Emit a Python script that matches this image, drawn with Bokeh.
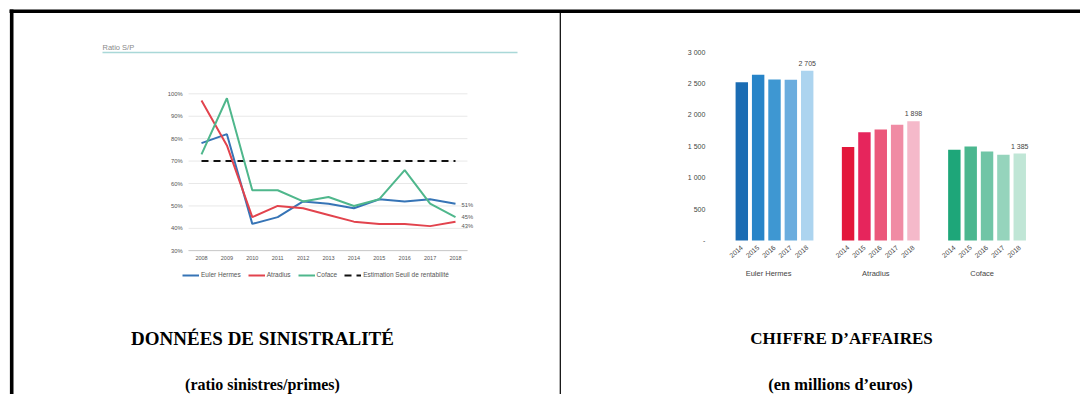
import math
from bokeh.plotting import figure
from bokeh.models import Range1d, LinearAxis, FixedTicker, Legend, LegendItem
from bokeh.core.properties import value
from bokeh.embed import file_html
from bokeh.resources import INLINE

# ---------------- data: loss ratio (left panel) ----------------
years = [2008, 2009, 2010, 2011, 2012, 2013, 2014, 2015, 2016, 2017, 2018]
euler_sp = [78, 82, 42, 45, 52, 51, 49, 53, 52, 53, 51]
atradius_sp = [97, 77, 45, 50, 49, 46, 43, 42, 42, 41, 43]
coface_sp = [73, 98, 57, 57, 52, 54, 50, 53, 66, 51, 45]
seuil_sp = 70
sp_ticks = [30, 40, 50, 60, 70, 80, 90, 100]
sp_tick_labels = ["30%", "40%", "50%", "60%", "70%", "80%", "90%", "100%"]
line_names = ["Euler Hermes", "Atradius", "Coface", "Estimation Seuil de rentabilité"]

# ---------------- data: turnover (right panel) ----------------
ca_years = ["2014", "2015", "2016", "2017", "2018"]
ca_groups = ["Euler  Hermes", "Atradius", "Coface"]
ca_euler = [2520, 2640, 2565, 2560, 2705]
ca_atradius = [1490, 1725, 1768, 1843, 1898]
ca_coface = [1445, 1497, 1418, 1365, 1385]
ca_ticks = [0, 500, 1000, 1500, 2000, 2500, 3000]
ca_tick_labels = ["-", "500", "1 000", "1 500", "2 000", "2 500", "3 000"]

# ---------------- styles ----------------
SANS = value("Liberation Sans")
SERIF = value("Liberation Serif")
line_colors = ["#3674b6", "#e2434d", "#4fb78c"]
bar_colors = [
    ["#1b6cb3", "#2784c8", "#3e97d2", "#6badde", "#acd4ef"],
    ["#e3173a", "#e6255c", "#eb587b", "#f08ba4", "#f5b9ca"],
    ["#1ea679", "#4bb78f", "#70c5a6", "#95d4bc", "#c0e6d6"],
]

W, H = 1080, 394


def span(px_a, val_a, px_b, val_b, px_lo, px_hi):
    k = (val_b - val_a) / (px_b - px_a)
    return Range1d(start=val_a + (px_lo - px_a) * k, end=val_a + (px_hi - px_a) * k)


p = figure(width=W, height=H, x_range=Range1d(0, W), y_range=Range1d(H, 0),
           output_backend="svg", toolbar_location=None, min_border=0,
           x_axis_type=None, y_axis_type=None)
p.outline_line_color = None
p.background_fill_color = "white"
p.border_fill_color = "white"

# chart coordinate systems placed on the page
p.extra_x_ranges = {
    "lx": span(201, 2008, 455, 2018, 0, W),
    "bx": span(741.3, 0, 806.7, 4, 0, W),
}
p.extra_y_ranges = {
    "ly": span(250.3, 30, 93.3, 100, H, 0),
    "by": span(240, 0, 51.7, 3000, H, 0),
}

# ---------------- page frame ----------------
p.segment(x0=[9, 11.2], y0=[10.8, 9], x1=[W, 11.2], y1=[10.8, H], line_color="black", line_width=3.6)
p.segment(x0=[559.8], y0=[12], x1=[559.8], y1=[H], line_color="black", line_width=1.2)

# ---------------- left panel: loss ratios ----------------
p.text(x=[102], y=[47], text=["Ratio S/P"], text_font=SANS, text_font_size="7.5px",
       text_color="#8a8a8a", text_baseline="middle")
p.segment(x0=[102], y0=[52], x1=[517], y1=[52], line_color="#a9d8d8", line_width=1.6)

x_lo, x_hi = 2007.49, 2018.47
p.segment(x0=[x_lo] * len(sp_ticks), y0=sp_ticks, x1=[x_hi] * len(sp_ticks), y1=sp_ticks,
          line_color="#e8e8e8", line_width=1, x_range_name="lx", y_range_name="ly")

ly_axis = LinearAxis(x_range_name="lx", y_range_name="ly", fixed_location=x_lo,
                     ticker=FixedTicker(ticks=sp_ticks),
                     major_label_overrides=dict(zip(sp_ticks, sp_tick_labels)),
                     axis_line_color=None, major_tick_line_color=None, minor_tick_line_color=None,
                     major_tick_out=0, major_tick_in=0, minor_tick_out=0,
                     major_label_standoff=6, major_label_text_font="Liberation Sans",
                     major_label_text_font_size="5.8px", major_label_text_color="#555555")
p.add_layout(ly_axis, "left")

lx_axis = LinearAxis(x_range_name="lx", y_range_name="ly", fixed_location=sp_ticks[0],
                     bounds=(x_lo, x_hi), ticker=FixedTicker(ticks=years),
                     major_label_overrides={y: str(y) for y in years},
                     axis_line_color="#cdcdcd", axis_line_width=1,
                     major_tick_line_color=None, minor_tick_line_color=None,
                     major_tick_out=0, major_tick_in=0, minor_tick_out=0,
                     major_label_standoff=5, major_label_text_font="Liberation Sans",
                     major_label_text_font_size="5.5px", major_label_text_color="#555555")
p.add_layout(lx_axis, "below")

r_seuil = p.line(x=[years[0], years[-1]], y=[seuil_sp, seuil_sp], line_color="#111111",
                 line_width=2, line_dash="7 5", x_range_name="lx", y_range_name="ly")
r_lines = []
for series, col in zip([euler_sp, atradius_sp, coface_sp], line_colors):
    r_lines.append(p.line(x=years, y=series, line_color=col, line_width=2,
                          x_range_name="lx", y_range_name="ly"))

last_vals = [euler_sp[-1], coface_sp[-1], atradius_sp[-1]]
p.text(x=[years[-1]] * 3, y=last_vals, text=[f"{v}%" for v in last_vals],
       x_offset=6, y_offset=[1.5, 0, 4.5], text_font=SANS, text_font_size="5.8px",
       text_color="#555555", text_baseline="middle", x_range_name="lx", y_range_name="ly")

legend = Legend(items=[LegendItem(label=n, renderers=[r]) for n, r in
                       zip(line_names, r_lines + [r_seuil])],
                orientation="horizontal", location=(182, 116),
                label_text_font="Liberation Sans", label_text_font_size="6.5px",
                label_text_color="#555555", glyph_width=17, glyph_height=6,
                label_height=6, label_standoff=2, spacing=7, padding=0, margin=0,
                border_line_color=None, background_fill_alpha=0)
p.add_layout(legend)

# ---------------- right panel: turnover ----------------
ca_values = [ca_euler, ca_atradius, ca_coface]
group_step = 6.5
slots, tops, colors, slot_labels = [], [], [], {}
for g, vals in enumerate(ca_values):
    for i, v in enumerate(vals):
        s = g * group_step + i
        slots.append(s)
        tops.append(v)
        colors.append(bar_colors[g][i])
        slot_labels[s] = ca_years[i]

p.vbar(x=slots, top=tops, bottom=0, width=0.76, fill_color=colors, line_color=None,
       x_range_name="bx", y_range_name="by")

by_axis = LinearAxis(x_range_name="bx", y_range_name="by", fixed_location=-1.8,
                     ticker=FixedTicker(ticks=ca_ticks),
                     major_label_overrides=dict(zip(ca_ticks, ca_tick_labels)),
                     axis_line_color=None, major_tick_line_color=None, minor_tick_line_color=None,
                     major_tick_out=0, major_tick_in=0, minor_tick_out=0,
                     major_label_standoff=7, major_label_text_font="Liberation Sans",
                     major_label_text_font_size="7px", major_label_text_color="#444444")
p.add_layout(by_axis, "left")

bx_axis = LinearAxis(x_range_name="bx", y_range_name="by", fixed_location=0,
                     ticker=FixedTicker(ticks=slots), major_label_overrides=slot_labels,
                     major_label_orientation=0.72,
                     axis_line_color=None, major_tick_line_color=None, minor_tick_line_color=None,
                     major_tick_out=0, major_tick_in=0, minor_tick_out=0,
                     major_label_standoff=6, major_label_text_font="Liberation Sans",
                     major_label_text_font_size="6.8px", major_label_text_color="#444444")
p.add_layout(bx_axis, "below")

group_centers = [g * group_step + (len(ca_years) - 1) / 2 - 0.3 for g in range(len(ca_groups))]
bg_axis = LinearAxis(x_range_name="bx", y_range_name="by", fixed_location=0,
                     ticker=FixedTicker(ticks=group_centers),
                     major_label_overrides=dict(zip(group_centers, ca_groups)),
                     axis_line_color=None, major_tick_line_color=None, minor_tick_line_color=None,
                     major_tick_out=0, major_tick_in=0, minor_tick_out=0,
                     major_label_standoff=28, major_label_text_font="Liberation Sans",
                     major_label_text_font_size="7.5px", major_label_text_color="#444444")
p.add_layout(bg_axis, "below")

last_slots = [g * group_step + len(ca_years) - 1 for g in range(len(ca_groups))]
last_tops = [vals[-1] for vals in ca_values]
p.text(x=last_slots, y=last_tops, text=[f"{v:,}".replace(",", " ") for v in last_tops],
       y_offset=-4, text_font=SANS, text_font_size="7px", text_color="#444444",
       text_align="center", text_baseline="bottom", x_range_name="bx", y_range_name="by")

# ---------------- captions ----------------
p.text(x=[262], y=[338], text=["DONNÉES DE SINISTRALITÉ"],
       text_font=SERIF, text_font_style="bold", text_font_size="19px", text_color="black",
       text_align="center", text_baseline="alphabetic")
p.text(x=[841], y=[338], text=["CHIFFRE D’AFFAIRES"],
       text_font=SERIF, text_font_style="bold", text_font_size="17px", text_color="black",
       text_align="center", text_baseline="alphabetic")
p.text(x=[262], y=[384], text=["(ratio sinistres/primes)"],
       text_font=SERIF, text_font_style="bold", text_font_size="16px", text_color="black",
       text_align="center", text_baseline="alphabetic")
p.text(x=[840], y=[384], text=["(en millions d’euros)"],
       text_font=SERIF, text_font_style="bold", text_font_size="16.5px", text_color="black",
       text_align="center", text_baseline="alphabetic")

open("out.html", "w").write(file_html(p, INLINE))
